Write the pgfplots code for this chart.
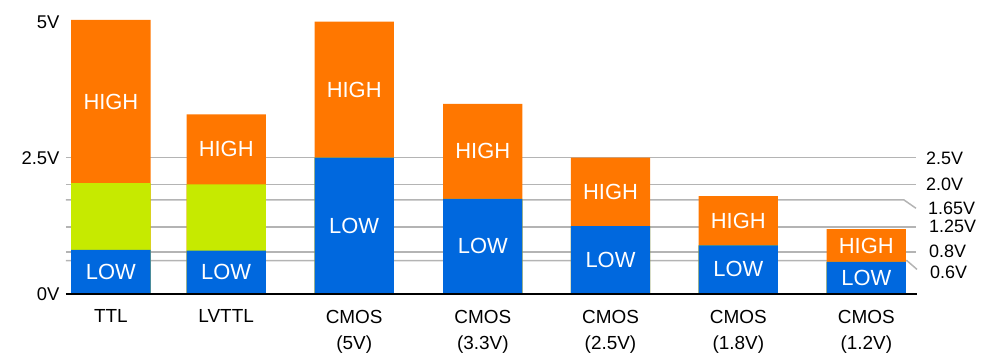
\documentclass[border=0pt]{standalone}
\usepackage{pgfplots}
\pgfplotsset{compat=1.18}
\usepackage{pgfplotstable}
\usepackage{fontspec}
\setmainfont{Liberation Sans}
\definecolor{hi}{RGB}{255,119,0}
\definecolor{lo}{RGB}{0,104,222}
\definecolor{mid}{RGB}{198,234,0}
\definecolor{gridc}{RGB}{180,180,180}

% cumulative segment tops (V)
\pgfplotstableread{
x      low    mid    top
110.9  0.80   2.03   5.04
226.2  0.785  2.01   3.30
354.2  2.50   2.50   5.01
482.8  1.74   1.74   3.49
610.5  1.24   1.24   2.50
738.3  0.885  0.885  1.79
866.3  0.58   0.58   1.185
}\bars

\pgfplotstableread{
x      y      label
110.9  3.535  HIGH
110.9  0.40   LOW
226.2  2.655  HIGH
226.2  0.39   LOW
354.2  3.755  HIGH
354.2  1.25   LOW
482.8  2.615  HIGH
482.8  0.87   LOW
610.5  1.87   HIGH
610.5  0.62   LOW
738.3  1.34   HIGH
738.3  0.44   LOW
866.3  0.88   HIGH
866.3  0.29   LOW
}\barlabels

\pgfplotstableread{
x    y      label
926  2.489  2.5V
926  2.01   2.0V
928  1.567  1.65V
929  1.241  1.25V
929  0.780  0.8V
930  0.380  0.6V
}\rightlabels

\begin{document}
\begin{tikzpicture}
\begin{axis}[
  scale only axis, width=850bp, height=271.2bp,
  xmin=66, xmax=916, ymin=0, ymax=5,
  clip=false,
  axis line style={draw=none},
  major tick length=0pt,
  tick style={draw=none},
  ytick={0,2.5,5}, yticklabels={0V,2.5V,5V},
  yticklabel style={font=\fontsize{18.5}{21}\selectfont, xshift=-3bp, yshift=-0.5bp},
  xtick={110.9,226.2,354.2,482.8,610.5,738.3,866.3},
  xticklabels={TTL,LVTTL,{CMOS\\(5V)},{CMOS\\(3.3V)},{CMOS\\(2.5V)},{CMOS\\(1.8V)},{CMOS\\(1.2V)}},
  xticklabel style={font=\fontsize{19}{27}\selectfont, align=center, yshift=-13bp},
]
% bounding box = full reference frame
\path (axis cs:0,-1.267) rectangle (axis cs:999,5.407);
% threshold lines
\addplot[gridc, line width=1.5bp] coordinates {(66,2.50)(916,2.50)};
\addplot[gridc, line width=1.5bp] coordinates {(66,2.01)(916,2.01)};
\addplot[gridc, line width=1.5bp] coordinates {(66,1.72)(904,1.72)(916,1.567)};
\addplot[gridc, line width=1.5bp] coordinates {(66,1.225)(916,1.225)};
\addplot[gridc, line width=1.5bp] coordinates {(66,0.76)(916,0.76)};
\addplot[gridc, line width=1.5bp] coordinates {(66,0.60)(907,0.60)(917,0.44)};
% bars
\addplot[ybar, bar width=79.3, bar shift=0pt, fill=hi, draw=none] table[x=x,y=top]{\bars};
\addplot[ybar, bar width=79.3, bar shift=0pt, fill=mid, draw=none] table[x=x,y=mid]{\bars};
\addplot[ybar, bar width=79.3, bar shift=0pt, fill=lo, draw=none] table[x=x,y=low]{\bars};
% baseline
\addplot[black, line width=2bp] coordinates {(66,-0.015)(917,-0.015)};
% labels inside bars
\addplot[draw=none, mark=none, nodes near coords, point meta=explicit symbolic,
  nodes near coords style={text=white, font=\fontsize{22}{24}\selectfont, anchor=center, inner sep=0pt}]
  table[x=x,y=y,meta=label]{\barlabels};
% right-hand threshold labels
\addplot[draw=none, mark=none, nodes near coords, point meta=explicit symbolic,
  nodes near coords style={text=black, font=\fontsize{18}{20}\selectfont, anchor=west, inner sep=0pt}]
  table[x=x,y=y,meta=label]{\rightlabels};
\end{axis}
\end{tikzpicture}
\end{document}
